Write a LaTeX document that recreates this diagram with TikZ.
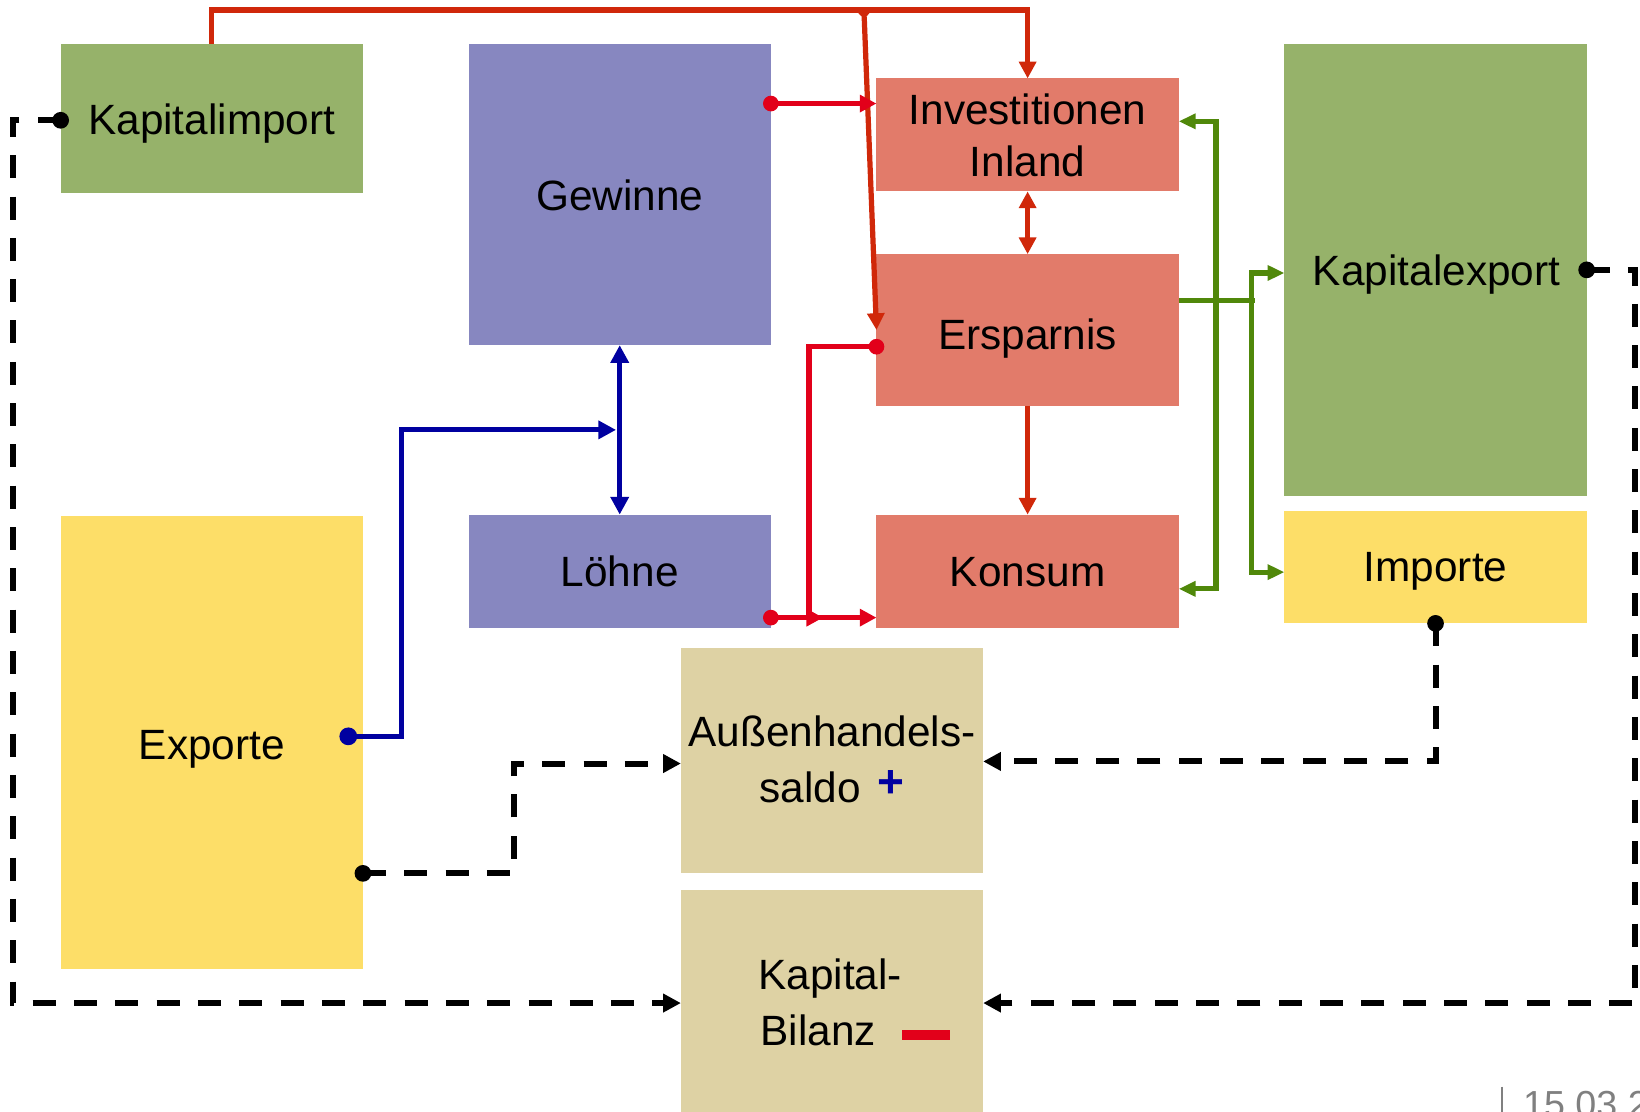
\documentclass[tikz,border=0pt]{standalone}
\usepackage{fontspec}
\setmainfont{Liberation Sans}
\usetikzlibrary{arrows.meta}
\definecolor{cgreen}{RGB}{150,178,106}
\definecolor{cpurple}{RGB}{135,135,192}
\definecolor{csalmon}{RGB}{226,123,106}
\definecolor{cyellow}{RGB}{253,222,104}
\definecolor{ctan}{RGB}{222,210,164}
\definecolor{rdark}{RGB}{208,40,10}
\definecolor{rbright}{RGB}{226,0,26}
\definecolor{cblue}{RGB}{0,0,160}
\definecolor{cgr}{RGB}{80,136,10}
\definecolor{cgray}{RGB}{128,128,128}
\begin{document}
\begin{tikzpicture}[x=1pt,y=-1pt,
  box/.style={rectangle,inner sep=0pt,outer sep=0pt,draw=none,fill=#1},
  lbl/.style={inner sep=0pt,outer sep=0pt,anchor=base,font=\fontsize{40.5}{49}\selectfont},
  rd/.style={draw=rdark,line width=5pt,-{Triangle[length=16pt,width=16pt]}},
  rb/.style={draw=rbright,line width=5pt,-{Triangle[length=16pt,width=16pt]}},
  bl/.style={draw=cblue,line width=5pt,-{Triangle[length=17pt,width=17pt]}},
  gr/.style={draw=cgr,line width=5pt,-{Triangle[length=16pt,width=14pt]}},
  dsh/.style={draw=black,line width=5.7pt,dash pattern=on 22pt off 17.5pt,-{Triangle[length=17pt,width=17pt]}},
]
\useasboundingbox (0,0) rectangle (1568,1063);
\clip (0,0) rectangle (1568,1063);

% boxes
\node[box=cgreen, minimum width=289pt, minimum height=143pt] (kimp) at (202.5,113.5) {};
\node[box=cpurple, minimum width=289pt, minimum height=288pt] (gew) at (592.5,186) {};
\node[box=csalmon, minimum width=289pt, minimum height=108pt] (inv) at (982.5,129) {};
\node[box=csalmon, minimum width=289pt, minimum height=145pt] (ers) at (982.5,315.5) {};
\node[box=csalmon, minimum width=289pt, minimum height=108pt] (kon) at (982.5,546) {};
\node[box=cpurple, minimum width=289pt, minimum height=108pt] (loh) at (592.5,546) {};
\node[box=cgreen, minimum width=289pt, minimum height=432pt] (kexp) at (1372.5,258) {};
\node[box=cyellow, minimum width=289pt, minimum height=107pt] (imp) at (1372.5,542.5) {};
\node[box=cyellow, minimum width=289pt, minimum height=433pt] (exp) at (202.5,709.5) {};
\node[box=ctan, minimum width=289pt, minimum height=215pt] (ahs) at (795.5,727.5) {};
\node[box=ctan, minimum width=289pt, minimum height=224pt] (kb) at (795.5,963) {};

% texts
\node[lbl] (t1) at (202.5,129) {Kapitalimport};
\node[lbl] (t2) at (592.5,201) {Gewinne};
\node[lbl] (t3) at (982.5,119.5) {Investitionen};
\node[lbl] (t3b) at (982.5,169) {Inland};
\node[lbl] (t4) at (982.5,334) {Ersparnis};
\node[lbl] (t5) at (592.5,561) {Löhne};
\node[lbl] (t6) at (982.5,561) {Konsum};
\node[lbl] (t7) at (1373.5,272.5) {Kapitalexport};
\node[lbl] (t8) at (1372.5,556) {Importe};
\node[lbl] (t9) at (202.5,726) {Exporte};
\node[lbl] (t10) at (795.5,714) {Außenhandels-};
\node[lbl,anchor=base west] (t11) at (726,767) {saldo};
\node[inner sep=0pt,font=\fontsize{44}{50}\selectfont\bfseries,text=cblue] (t12) at (852,750) {+};
\node[lbl,anchor=base west] (t13) at (725,946) {Kapital-};
\node[lbl,anchor=base west] (t14) at (727,1000) {Bilanz};
\node[inner sep=0pt,anchor=west] (t15) at (862,989.5) {\color{rbright}\rule{46pt}{9pt}};

% footer
\node[inner sep=0pt,anchor=base west,font=\fontsize{36}{42}\selectfont,text=cgray] (date) at (1456,1068) {15.03.2};
\coordinate (sepA) at (1436,1039);
\coordinate (sepB) at (1436,1063);
\draw[cgray,line width=2pt] (sepA) -- (sepB);

% helper coordinates
\coordinate (J) at (826,9.6);
\coordinate (i1) at ([yshift=30pt]inv.west);
\coordinate (k1) at ([yshift=-44.5pt]kon.west);
\coordinate (e1) at ([yshift=-16pt]ers.west);
\coordinate (rv) at (773.5,590.5);
\coordinate (rj) at (787,590.5);
\coordinate (x1) at (333,704);
\coordinate (xb) at (384,704);
\coordinate (b2) at (589,411);
\coordinate (g0) at ([yshift=28pt]ers.east);
\coordinate (gv1) at (1162.5,287.5);
\coordinate (gv2) at (1196.7,287.5);
\coordinate (gend) at (1200,287.5);
\coordinate (ginv) at ([yshift=13pt]inv.east);
\coordinate (gkon) at ([yshift=-17pt]kon.east);
\coordinate (gkexp) at ([yshift=-3pt]kexp.west);
\coordinate (gimp) at ([yshift=-4.5pt]imp.west);
\coordinate (d1) at ([yshift=-1.5pt]kimp.west);
\coordinate (d3) at ([yshift=-125.5pt]exp.east);
\coordinate (kbl) at ([yshift=4pt]kb.west);
\coordinate (kbr) at ([yshift=4pt]kb.east);
\coordinate (ahl) at ([yshift=-2.5pt]ahs.west);
\coordinate (ahr) at ([yshift=-0.5pt]ahs.east);

% dark red connectors
\draw[rd] (kimp.north) -- ++(0,-32.4) -| (inv.north);
\draw[rd,{Triangle[reversed,length=9pt,width=15pt]}-{Triangle[length=16pt,width=16pt]}] (J) -- (ers.west);
\draw[rd,{Triangle[length=16pt,width=16pt]}-{Triangle[length=16pt,width=16pt]}] (inv.south) -- (ers.north);
\draw[rd] (ers.south) -- (kon.north);

% bright red connectors
\draw[rb] (i1 -| gew.east) -- (i1);
\fill[rbright] (i1 -| gew.east) circle[radius=7.5pt];
\draw[rb] (k1 -| loh.east) -- (k1);
\fill[rbright] (k1 -| loh.east) circle[radius=7.5pt];
\draw[rb] (e1) -| (rv) -- (rj);
\fill[rbright] (e1) circle[radius=7.5pt];

% blue connectors
\draw[bl,{Triangle[length=17pt,width=17pt]}-{Triangle[length=17pt,width=17pt]}] (gew.south) -- (loh.north);
\draw[bl] (x1) -- (xb) |- (b2);
\fill[cblue] (x1) circle[radius=8.5pt];

% green connectors
\draw[cgr,line width=5pt] (g0) -- (gend);
\draw[gr,{Triangle[length=16pt,width=14pt]}-{Triangle[length=16pt,width=14pt]}] (ginv) -| (gv1) |- (gkon);
\draw[gr,{Triangle[length=16pt,width=14pt]}-{Triangle[length=16pt,width=14pt]}] (gkexp) -| (gv2) |- (gimp);

% dashed black connectors
\draw[dsh] (d1) -- ++(-45.6,0) |- (kbl);
\fill (d1) circle[radius=8pt];
\draw[dsh] (kexp.east) -- ++(46.5,0) |- (kbr);
\fill (kexp.east) circle[radius=8pt];
\draw[dsh] (d3) -- ++(144,0) |- (ahl);
\fill (d3) circle[radius=8pt];
\draw[dsh] (imp.south) |- (ahr);
\fill (imp.south) circle[radius=8pt];
\end{tikzpicture}
\end{document}
